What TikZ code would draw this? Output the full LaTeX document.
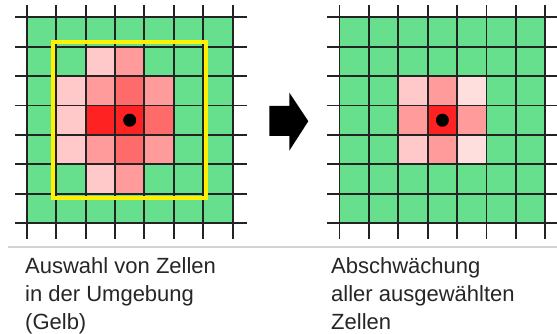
\documentclass[tikz,border=0pt]{standalone}
\usepackage{fontspec}
\setmainfont{Liberation Sans}
\definecolor{cgreen}{RGB}{102,224,140}
\definecolor{pA}{RGB}{255,201,201}
\definecolor{pB}{RGB}{255,155,155}
\definecolor{pC}{RGB}{255,106,106}
\definecolor{pD}{RGB}{255,34,34}
\definecolor{pE}{RGB}{255,222,222}
\definecolor{gline}{RGB}{35,35,35}
\definecolor{sepgray}{RGB}{210,210,210}
\tikzset{
  gridline/.style={draw=gline, line width=1.9pt},
  selbox/.style={draw=yellow, line width=3.8pt},
  centerdot/.style={fill=black},
  caption/.style={anchor=north west, inner sep=0pt, align=left,
    font=\fontsize{22}{28}\selectfont, text=black!85},
}
\newcommand{\cs}{29.4}
\begin{document}
\begin{tikzpicture}[x=1pt,y=-1pt]
\useasboundingbox (0,0) rectangle (557,334);
\fill[white] (0,0) rectangle (557,334);

% ---------- left grid ----------
\begin{scope}[shift={(26.8,17.3)}]
  \fill[cgreen] (0,0) rectangle (7*\cs,7*\cs);
  \foreach \c/\r/\col in {2/1/pA,3/1/pB,
      1/2/pA,2/2/pB,3/2/pC,4/2/pB,
      1/3/pA,2/3/pD,3/3/pD,4/3/pC,
      1/4/pA,2/4/pB,3/4/pC,4/4/pB,
      2/5/pA,3/5/pB}
    \fill[\col] (\c*\cs,\r*\cs) rectangle ++(\cs,\cs);
  \foreach \i in {0,...,7} {
    \draw[gridline] (\i*\cs,-12.3) -- (\i*\cs,221.7);
    \draw[gridline] (-11.8,\i*\cs) -- (220.2,\i*\cs);
  }
  \node[selbox, draw, minimum width=152.8pt, minimum height=155.4pt, inner sep=0pt]
    (sel) at (3.5*\cs-0.5,3.5*\cs-0.2) {};
  \fill[centerdot] (3.5*\cs,3.5*\cs) coordinate (dotL) circle (6.5);
\end{scope}

% ---------- arrow ----------
\fill[black] (269.3,106) -- (289.3,106) -- (289.3,92.7) -- (308.3,121.2)
  -- (289.3,150.7) -- (289.3,136) -- (269.3,136) -- cycle;

% ---------- right grid ----------
\begin{scope}[shift={(339.5,17.3)}]
  \fill[cgreen] (0,0) rectangle (7*\cs,7*\cs);
  \foreach \c/\r/\col in {2/2/pA,3/2/pB,4/2/pE,
      2/3/pB,3/3/pD,4/3/pB,
      2/4/pA,3/4/pB,4/4/pE}
    \fill[\col] (\c*\cs,\r*\cs) rectangle ++(\cs,\cs);
  \foreach \i in {0,...,7} {
    \draw[gridline] (\i*\cs,-12.3) -- (\i*\cs,221.7);
    \draw[gridline] (-12.5,\i*\cs) -- (218,\i*\cs);
  }
  \fill[centerdot] (3.5*\cs,3.5*\cs) coordinate (dotR) circle (6.5);
\end{scope}

% ---------- separator ----------
\draw[sepgray, line width=1.6pt] (8,247) -- (557,247);

% ---------- captions ----------
\node[caption] (capL) at (25,257) {Auswahl von Zellen\\in der Umgebung\\(Gelb)};
\node[caption] (capR) at (331,257) {Abschwächung\\aller ausgewählten\\Zellen};
\end{tikzpicture}
\end{document}
